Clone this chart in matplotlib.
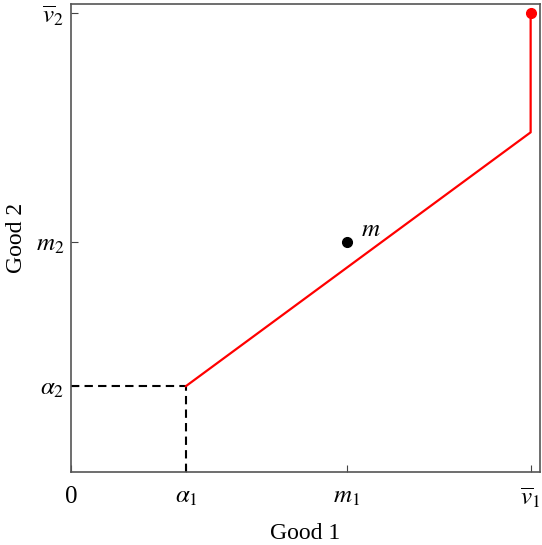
import numpy as np
import matplotlib
matplotlib.use("Agg")
import matplotlib.pyplot as plt

plt.rcParams['font.family'] = ['Liberation Serif', 'DejaVu Serif']
plt.rcParams['mathtext.fontset'] = 'stix'

# key points (good 1, good 2)
alpha = (0.25, 0.187)
m = (0.6, 0.5)
vbar = (1.0, 1.0)
kink = (1.0, 0.74)

path_x = [alpha[0], kink[0], vbar[0]]
path_y = [alpha[1], kink[1], vbar[1]]

xticks = [0, alpha[0], m[0], vbar[0]]
xlabels = ['0', r'$\alpha_1$', r'$m_1$', r'$\overline{v}_1$']
yticks = [alpha[1], m[1], vbar[1]]
ylabels = [r'$\alpha_2$', r'$m_2$', r'$\overline{v}_2$']

fig = plt.figure(figsize=(5.42, 5.45), dpi=100)
ax = fig.add_axes([0.131, 0.134, 0.865, 0.859])

# dashed guides to alpha
ax.plot([0, alpha[0]], [alpha[1], alpha[1]], 'k--', lw=1.5, dashes=(4, 2.5))
ax.plot([alpha[0], alpha[0]], [0, alpha[1]], 'k--', lw=1.5, dashes=(4, 2.5))

ax.plot(path_x, path_y, c='red', lw=1.6)
ax.plot(vbar[0], vbar[1], 'o', c='red', ms=7)
ax.plot(m[0], m[1], 'o', c='black', ms=7)
ax.text(m[0] + 0.03, m[1] + 0.015, r'$m$', fontsize=18)

ax.set_xlim(0, 1.02)
ax.set_ylim(0, 1.02)
ax.set_xticks(xticks)
ax.set_xticklabels(xlabels, fontsize=18)
ax.set_yticks(yticks)
ax.set_yticklabels(ylabels, fontsize=18)
ax.tick_params(direction='in', length=5, colors='#444444', labelcolor='black')
ax.tick_params(axis='x', pad=10)
ax.tick_params(axis='y', pad=5)
for s in ax.spines.values():
    s.set_color('#555555')
    s.set_linewidth(1.2)

ax.set_xlabel('Good 1', fontsize=17, labelpad=9)
ax.set_ylabel('Good 2', fontsize=17, labelpad=6)

fig.savefig('out.png', dpi=100)
